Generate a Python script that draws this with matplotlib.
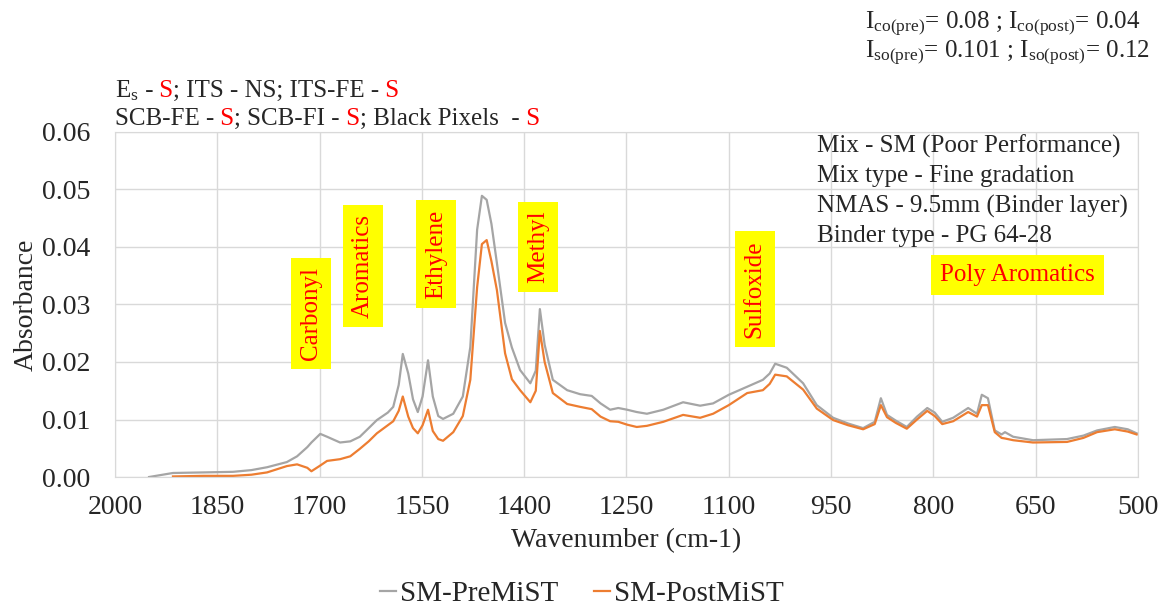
import numpy as np
import matplotlib
matplotlib.use("Agg")
import matplotlib.pyplot as plt
from matplotlib.ticker import FormatStrFormatter

# spectrum (wavenumber in cm-1, absorbance)
wavenumber = [1950, 1915, 1870, 1827, 1800, 1777, 1748, 1733, 1718, 1712,
              1699, 1689, 1670, 1655, 1641, 1628, 1616, 1600, 1592, 1584,
              1578, 1570, 1563, 1556, 1549, 1541, 1534, 1526, 1519, 1504,
              1490, 1479, 1469, 1462, 1455, 1448, 1440, 1428, 1418, 1406,
              1391, 1383, 1377, 1370, 1358, 1337, 1318, 1301, 1288, 1274,
              1262, 1249, 1235, 1220, 1196, 1167, 1142, 1123, 1100, 1073,
              1050, 1040, 1032, 1015, 991, 971, 947, 925, 903, 886,
              877, 868, 855, 839, 824, 809, 798, 787, 771, 749,
              736, 729, 720, 710, 700, 695, 683, 654, 604, 580,
              560, 534, 515, 502]
pre_mist = [0.0000, 0.0007, 0.0008, 0.0009, 0.0012, 0.0017, 0.0026, 0.0036, 0.0052, 0.0060,
            0.0075, 0.0070, 0.0060, 0.0062, 0.0070, 0.0085, 0.0099, 0.0112, 0.0122, 0.0160,
            0.0214, 0.0180, 0.0135, 0.0113, 0.0140, 0.0203, 0.0140, 0.0106, 0.0101, 0.0110,
            0.0140, 0.0226, 0.0430, 0.0489, 0.0482, 0.0440, 0.0372, 0.0268, 0.0225, 0.0186,
            0.0163, 0.0185, 0.0292, 0.0230, 0.0169, 0.0151, 0.0144, 0.0141, 0.0128, 0.0117,
            0.0120, 0.0117, 0.0113, 0.0110, 0.0117, 0.0130, 0.0124, 0.0128, 0.0143, 0.0157,
            0.0169, 0.0180, 0.0197, 0.0190, 0.0163, 0.0125, 0.0103, 0.0093, 0.0085, 0.0096,
            0.0137, 0.0108, 0.0098, 0.0087, 0.0105, 0.0120, 0.0112, 0.0096, 0.0103, 0.0120,
            0.0110, 0.0143, 0.0137, 0.0081, 0.0074, 0.0078, 0.0070, 0.0064, 0.0066, 0.0072,
            0.0081, 0.0087, 0.0083, 0.0076]
post_mist = [np.nan, 0.0001, 0.0002, 0.0002, 0.0004, 0.0008, 0.0019, 0.0022, 0.0016, 0.0010,
             0.0020, 0.0028, 0.0031, 0.0036, 0.0049, 0.0062, 0.0076, 0.0090, 0.0097, 0.0115,
             0.0140, 0.0105, 0.0085, 0.0076, 0.0090, 0.0117, 0.0080, 0.0066, 0.0063, 0.0078,
             0.0106, 0.0169, 0.0330, 0.0405, 0.0412, 0.0375, 0.0325, 0.0215, 0.0170, 0.0151,
             0.0130, 0.0150, 0.0254, 0.0200, 0.0146, 0.0127, 0.0122, 0.0118, 0.0105, 0.0097,
             0.0096, 0.0091, 0.0087, 0.0089, 0.0096, 0.0108, 0.0103, 0.0110, 0.0125, 0.0146,
             0.0151, 0.0162, 0.0178, 0.0175, 0.0152, 0.0119, 0.0099, 0.0090, 0.0083, 0.0092,
             0.0125, 0.0104, 0.0094, 0.0084, 0.0100, 0.0115, 0.0106, 0.0092, 0.0097, 0.0113,
             0.0105, 0.0125, 0.0125, 0.0078, 0.0068, 0.0067, 0.0064, 0.0060, 0.0061, 0.0068,
             0.0078, 0.0083, 0.0079, 0.0074]

# functional group labels (text, wavenumber, absorbance, rotation)
group_names = ["Carbonyl", "Aromatics", "Ethylene", "Methyl", "Sulfoxide", "Poly Aromatics"]
group_wn = [1712, 1636, 1529, 1380, 1062, 677]
group_abs = [0.0284, 0.0367, 0.0388, 0.0400, 0.0327, 0.0351]
group_rot = [90, 90, 90, 90, 90, 0]

mix_info = ["Mix - SM (Poor Performance)", "Mix type - Fine gradation",
            "NMAS - 9.5mm (Binder layer)", "Binder type - PG 64-28"]

plt.rcParams['font.family'] = ['Liberation Serif', 'DejaVu Serif']
plt.rcParams['mathtext.fontset'] = 'custom'
plt.rcParams['mathtext.rm'] = 'Liberation Serif'
plt.rcParams['mathtext.it'] = 'Liberation Serif'

FS = 18
BIG = 20
GRID = '#d9d9d9'
TXT = '#262626'

fig = plt.figure(figsize=(11.71, 6.11), dpi=100)
ax = fig.add_axes([0.0982, 0.2193, 0.8736, 0.5647])

ax.plot(wavenumber, pre_mist, color='#a5a5a5', lw=1.6, label='SM-PreMiST')
ax.plot(wavenumber, post_mist, color='#ed7d31', lw=1.6, label='SM-PostMiST')

ax.set_xlim(2000, 500)
ax.set_ylim(0, 0.06)
ax.set_xticks(np.arange(2000, 499, -150))
ax.set_yticks(np.arange(0, 0.0601, 0.01))
ax.yaxis.set_major_formatter(FormatStrFormatter('%.2f'))
ax.grid(True, color=GRID, lw=1)
ax.set_axisbelow(True)
for s in ax.spines.values():
    s.set_color(GRID)
ax.tick_params(length=0, labelsize=BIG, colors=TXT)
ax.tick_params(axis='y', pad=18)
ax.tick_params(axis='x', pad=13)
ax.set_xlabel('Wavenumber (cm-1)', fontsize=BIG, color=TXT, labelpad=6)
ax.set_ylabel('Absorbance', fontsize=BIG, color=TXT, labelpad=2)

for name, x, y, rot in zip(group_names, group_wn, group_abs, group_rot):
    ax.text(x, y, name, rotation=rot, color='red', fontsize=FS, ha='center', va='center',
            bbox=dict(facecolor='yellow', edgecolor='none', pad=6.5))

for i, line in enumerate(mix_info):
    ax.text(971, 0.0575 - i * 0.0052, line, fontsize=FS, color=TXT, va='center', ha='left')

# top right index values
fig.text(865 / 1171, 1 - 28 / 611, r'$\mathregular{I_{co(pre)}}$= 0.08 ; $\mathregular{I_{co(post)}}$= 0.04',
         fontsize=FS, color=TXT, va='baseline')
fig.text(865 / 1171, 1 - 57 / 611, r'$\mathregular{I_{so(pre)}}$= 0.101 ; $\mathregular{I_{so(post)}}$= 0.12',
         fontsize=FS, color=TXT, va='baseline')


def multicolor(x, y, parts):
    r = fig.canvas.get_renderer()
    for s, c in parts:
        t = fig.text(x, y, s, color=c, fontsize=FS, va='baseline')
        x += t.get_window_extent(renderer=r).width / fig.bbox.width


multicolor(115 / 1171, 1 - 97 / 611,
           [(r'$\mathregular{E_s}$', TXT), (' -', TXT), (' S', 'red'),
            ('; ITS - NS; ITS-FE -', TXT), (' S', 'red')])
multicolor(115 / 1171, 1 - 125 / 611,
           [('SCB-FE -', TXT), (' S', 'red'), ('; SCB-FI -', TXT), (' S', 'red'),
            ('; Black Pixels  -', TXT), (' S', 'red')])

fig.legend(loc='center', bbox_to_anchor=(0.497, 0.028), ncol=2, frameon=False,
           fontsize=21, handlelength=0.55, handletextpad=0.15, columnspacing=1.2,
           labelcolor=TXT)

fig.savefig('out.png', dpi=100)
